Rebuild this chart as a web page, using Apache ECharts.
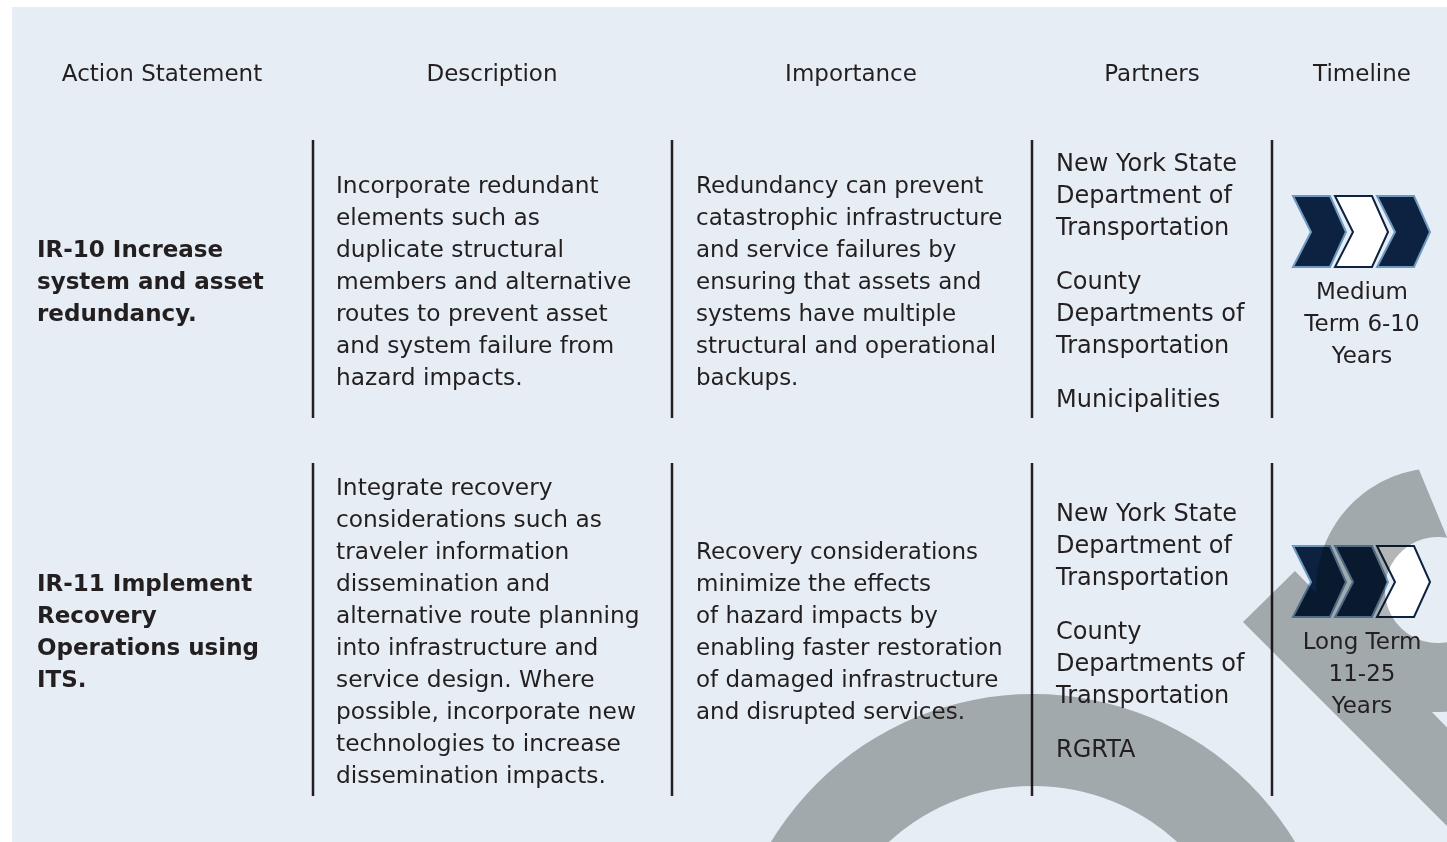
<!DOCTYPE html>
<html>
<head>
<meta charset="utf-8">
<script src="https://cdn.jsdelivr.net/npm/echarts@6/dist/echarts.min.js"></script>
<style>html,body{margin:0;padding:0;background:#fff;}#c{width:1447px;height:842px;}</style>
</head>
<body>
<div id="c"></div>
<script>
// ---- content ----
const headers = ['Action Statement', 'Description', 'Importance', 'Partners', 'Timeline'];
const actionTitles = [
  ['IR-10 Increase', 'system and asset', 'redundancy.'],
  ['IR-11 Implement', 'Recovery', 'Operations using', 'ITS.']
];
const descriptions = [
  ['Incorporate redundant', 'elements such as', 'duplicate structural', 'members and alternative',
   'routes to prevent asset', 'and system failure from', 'hazard impacts.'],
  ['Integrate recovery', 'considerations such as', 'traveler information', 'dissemination and',
   'alternative route planning', 'into infrastructure and', 'service design. Where',
   'possible, incorporate new', 'technologies to increase', 'dissemination impacts.']
];
const importance = [
  ['Redundancy can prevent', 'catastrophic infrastructure', 'and service failures by',
   'ensuring that assets and', 'systems have multiple', 'structural and operational', 'backups.'],
  ['Recovery considerations', 'minimize the effects', 'of hazard impacts by',
   'enabling faster restoration', 'of damaged infrastructure', 'and disrupted services.']
];
const partners = [
  [['New York State', 'Department of', 'Transportation'], ['County', 'Departments of', 'Transportation'], ['Municipalities']],
  [['New York State', 'Department of', 'Transportation'], ['County', 'Departments of', 'Transportation'], ['RGRTA']]
];
const timelineLabels = [
  ['Medium', 'Term 6-10', 'Years'],
  ['Long Term', '11-25', 'Years']
];
const chevronFilled = [
  [1, 0, 1],
  [1, 1, 0]
];

// ---- layout ----
const W = 1447, H = 842;
const TXT = '#231f20';
const FONT = '"DejaVu Sans", Verdana, sans-serif';
const headerY = 75;
const headerX = [162, 492, 851, 1152, 1362];
const rowCenter = [281, 631];
const dividerX = [313, 672, 1032, 1272];
const dividerY = [[140, 418], [463, 796]];
const colX = {action: 37, desc: 336, imp: 696, part: 1056, time: 1362};
const LH = 32, GROUP_GAP = 22, DY = 2;

const chart = echarts.init(document.getElementById('c'), null, {renderer: 'canvas', width: W, height: H});
const els = [];

els.push({type: 'rect', z: 0, shape: {x: 0, y: 0, width: W, height: H}, style: {fill: '#ffffff'}});
els.push({type: 'rect', z: 1, shape: {x: 12, y: 7, width: W - 12, height: H - 7}, style: {fill: '#e6edf4'}});

function txt(s, x, y, size, align, bold) {
  return {
    type: 'text', z: 20,
    style: {
      text: s, x: x, y: y,
      font: (bold ? 'bold ' : '') + size + 'px ' + FONT,
      fill: TXT, textAlign: align, textVerticalAlign: 'middle'
    }
  };
}
function stack(lines, x, cy, size, align, bold) {
  const y0 = cy - (lines.length - 1) * LH / 2 + DY;
  lines.forEach((l, i) => els.push(txt(l, x, y0 + i * LH, size, align, bold)));
}

headers.forEach((h, i) => els.push(txt(h, headerX[i], headerY, 23, 'center')));

// dividers
dividerY.forEach(([y1, y2]) => {
  dividerX.forEach(x => {
    els.push({type: 'line', z: 5, shape: {x1: x, y1: y1, x2: x, y2: y2}, style: {stroke: TXT, lineWidth: 2.5}});
  });
});

// chevrons
function chevron(x, y, filled) {
  return {
    type: 'polygon', z: 6,
    shape: {points: [[x, y], [x + 37, y], [x + 53, y + 36], [x + 37, y + 71], [x, y + 71], [x + 18, y + 36]]},
    style: filled ? {fill: '#0c2240', stroke: '#6d98c0', lineWidth: 2}
                  : {fill: '#ffffff', stroke: '#0c2240', lineWidth: 2}
  };
}

rowCenter.forEach((cy, r) => {
  stack(actionTitles[r], colX.action, cy, 23, 'left', true);
  stack(descriptions[r], colX.desc, cy, 23.3, 'left');
  stack(importance[r], colX.imp, cy, 23, 'left');
  const groups = partners[r];
  const nLines = groups.reduce((a, g) => a + g.length, 0);
  const span = (nLines - 1) * LH + (groups.length - 1) * GROUP_GAP;
  let y = cy - span / 2 + DY;
  groups.forEach(g => {
    g.forEach(l => { els.push(txt(l, colX.part, y, 24, 'left')); y += LH; });
    y += GROUP_GAP;
  });
  const top = cy - 85;
  chevronFilled[r].forEach((f, i) => els.push(chevron(1293 + i * 42, top, f)));
  timelineLabels[r].forEach((l, i) => els.push(txt(l, colX.time, cy + 10 + DY + i * LH, 23, 'center')));
});

// decorative gray shapes (multiplied over content)
els.push({
  type: 'ring', z: 10,
  shape: {cx: 1033, cy: 1000, r: 306, r0: 214},
  style: {fill: '#b4b6b5', blend: 'multiply'}
});
// hook shape: ring sector + diagonal band, traced as one outline (nonzero fill)
(function () {
  const cx = 1438, cy = 590, R = 122, r0 = 53;
  const pts = [];
  const rad = d => d * Math.PI / 180;
  for (let a = 261; a >= 20; a -= 2) pts.push([cx + R * Math.cos(rad(a)), cy + R * Math.sin(rad(a))]);
  for (let a = 20; a <= 280; a += 2) pts.push([cx + r0 * Math.cos(rad(a)), cy + r0 * Math.sin(rad(a))]);
  const last = pts[pts.length - 1];
  const band = [[1295, 571], [1243, 622], [1543, 922], [1595, 880], [1295, 571]];
  band.forEach(p => pts.push(p));
  pts.push(last);
  els.push({type: 'polygon', z: 10, shape: {points: pts}, style: {fill: '#b4b6b5', blend: 'multiply'}});
})();

chart.setOption({animation: false, graphic: {elements: els}});
</script>
</body>
</html>
